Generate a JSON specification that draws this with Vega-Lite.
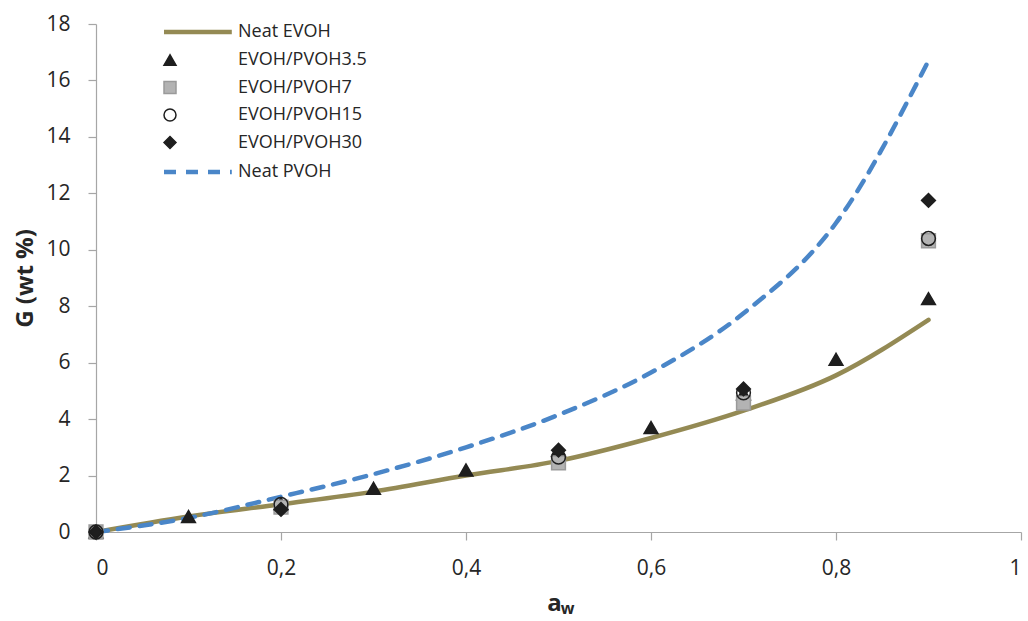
{
  "$schema": "https://vega.github.io/schema/vega-lite/v6.json",
  "width": 925,
  "height": 508,
  "autosize": {"type": "none"},
  "padding": {"left": 96, "top": 24, "right": 7, "bottom": 89},
  "background": "white",
  "config": {
    "view": {"stroke": null},
    "font": "Open Sans",
    "axis": {"grid": false, "domainColor": "#A6A6A6", "tickColor": "#A6A6A6", "domainWidth": 1.2, "tickWidth": 1.2, "labelFont": "Open Sans", "labelFontSize": 21, "labelColor": "#262626", "titleFont": "Open Sans", "titleColor": "#262626"},
    "legend": {"title": null, "orient": "none", "legendX": 65, "padding": 0, "symbolSize": 144, "labelOffset": 59, "rowPadding": 9.5, "labelFont": "Open Sans", "labelFontSize": 18, "labelColor": "#262626", "symbolStrokeWidth": 1.5}
  },
  "datasets": {
    "lines": [
      {"a": 0, "G": 0.0, "series": "Neat EVOH"},
      {"a": 0.1, "G": 0.55, "series": "Neat EVOH"},
      {"a": 0.2, "G": 0.98, "series": "Neat EVOH"},
      {"a": 0.3, "G": 1.43, "series": "Neat EVOH"},
      {"a": 0.4, "G": 2.0, "series": "Neat EVOH"},
      {"a": 0.5, "G": 2.52, "series": "Neat EVOH"},
      {"a": 0.6, "G": 3.33, "series": "Neat EVOH"},
      {"a": 0.7, "G": 4.3, "series": "Neat EVOH"},
      {"a": 0.8, "G": 5.55, "series": "Neat EVOH"},
      {"a": 0.9, "G": 7.52, "series": "Neat EVOH"},
      {"a": 0, "G": 0.0, "series": "Neat PVOH"},
      {"a": 0.1, "G": 0.5, "series": "Neat PVOH"},
      {"a": 0.2, "G": 1.25, "series": "Neat PVOH"},
      {"a": 0.3, "G": 2.05, "series": "Neat PVOH"},
      {"a": 0.4, "G": 3.0, "series": "Neat PVOH"},
      {"a": 0.5, "G": 4.15, "series": "Neat PVOH"},
      {"a": 0.6, "G": 5.65, "series": "Neat PVOH"},
      {"a": 0.7, "G": 7.75, "series": "Neat PVOH"},
      {"a": 0.8, "G": 10.95, "series": "Neat PVOH"},
      {"a": 0.9, "G": 16.7, "series": "Neat PVOH"}
    ],
    "points": [
      {"a": 0, "G": 0.0, "series": "EVOH/PVOH3.5"},
      {"a": 0.1, "G": 0.55, "series": "EVOH/PVOH3.5"},
      {"a": 0.2, "G": 1.0, "series": "EVOH/PVOH3.5"},
      {"a": 0.3, "G": 1.55, "series": "EVOH/PVOH3.5"},
      {"a": 0.4, "G": 2.2, "series": "EVOH/PVOH3.5"},
      {"a": 0.5, "G": 2.9, "series": "EVOH/PVOH3.5"},
      {"a": 0.6, "G": 3.7, "series": "EVOH/PVOH3.5"},
      {"a": 0.7, "G": 4.9, "series": "EVOH/PVOH3.5"},
      {"a": 0.8, "G": 6.12, "series": "EVOH/PVOH3.5"},
      {"a": 0.9, "G": 8.27, "series": "EVOH/PVOH3.5"},
      {"a": 0, "G": 0.0, "series": "EVOH/PVOH7"},
      {"a": 0.2, "G": 0.88, "series": "EVOH/PVOH7"},
      {"a": 0.5, "G": 2.45, "series": "EVOH/PVOH7"},
      {"a": 0.7, "G": 4.57, "series": "EVOH/PVOH7"},
      {"a": 0.9, "G": 10.32, "series": "EVOH/PVOH7"},
      {"a": 0, "G": 0.0, "series": "EVOH/PVOH15"},
      {"a": 0.2, "G": 0.98, "series": "EVOH/PVOH15"},
      {"a": 0.5, "G": 2.65, "series": "EVOH/PVOH15"},
      {"a": 0.7, "G": 4.93, "series": "EVOH/PVOH15"},
      {"a": 0.9, "G": 10.4, "series": "EVOH/PVOH15"},
      {"a": 0, "G": 0.0, "series": "EVOH/PVOH30"},
      {"a": 0.2, "G": 0.8, "series": "EVOH/PVOH30"},
      {"a": 0.5, "G": 2.9, "series": "EVOH/PVOH30"},
      {"a": 0.7, "G": 5.07, "series": "EVOH/PVOH30"},
      {"a": 0.9, "G": 11.75, "series": "EVOH/PVOH30"}
    ]
  },
  "resolve": {"axis": {"x": "independent"}},
  "layer": [
    {
      "data": {"name": "lines"},
      "transform": [{"filter": "datum.series == 'Neat EVOH'"}],
      "mark": {"type": "line", "strokeWidth": 4.5, "strokeCap": "round", "interpolate": "monotone"},
      "encoding": {
        "x": {"field": "a", "type": "quantitative", "scale": {"domain": [0, 1], "nice": false},
          "axis": {"values": [0, 0.2, 0.4, 0.6, 0.8, 1], "labelExpr": "replace(toString(datum.value), '.', ',')", "tickSize": 8, "labelPadding": 17, "title": "a", "titleFontSize": 24, "titleFontWeight": "bold", "titleX": 458, "titleY": 78, "titleBaseline": "alphabetic", "titleAlign": "center"}},
        "y": {"field": "G", "type": "quantitative", "scale": {"domain": [0, 18], "nice": false},
          "axis": {"values": [0, 2, 4, 6, 8, 10, 12, 14, 16, 18], "tickSize": 8, "labelPadding": 18, "title": "G (wt %)", "titleFontSize": 24, "titleFontWeight": "bold", "titleAngle": -90, "titleX": -64, "titleBaseline": "alphabetic"}},
        "color": {"field": "series", "type": "nominal", "scale": {"domain": ["Neat EVOH"], "range": ["#948A54"]},
          "legend": {"legendY": -1, "symbolType": "M-1,0H10.3", "symbolStrokeWidth": 4.5, "symbolStrokeColor": "#948A54"}}
      }
    },
    {
      "data": {"name": "lines"},
      "transform": [{"filter": "datum.series == 'Neat PVOH'"}],
      "mark": {"type": "line", "color": "#4A86C8", "strokeWidth": 4.5, "strokeCap": "round", "interpolate": "monotone"},
      "encoding": {
        "x": {"field": "a", "type": "quantitative",
          "axis": {"orient": "top", "domain": false, "ticks": false, "labels": false, "title": "w", "titleFontSize": 16, "titleFontWeight": "bold", "titleX": 471, "titleY": 589, "titleBaseline": "alphabetic", "titleAlign": "center"}},
        "y": {"field": "G", "type": "quantitative"},
        "strokeDash": {"field": "series", "type": "nominal", "scale": {"domain": ["Neat PVOH"], "range": [[12, 10]]},
          "legend": {"legendY": 139, "symbolType": "M-1,0H10.3", "symbolStrokeWidth": 4.5, "symbolStrokeColor": "#4A86C8"}}
      }
    },
    {
      "data": {"name": "points"},
      "mark": {"type": "point", "size": 190, "strokeWidth": 1.5, "opacity": 1},
      "encoding": {
        "x": {"field": "a", "type": "quantitative", "axis": null},
        "y": {"field": "G", "type": "quantitative"},
        "shape": {"field": "series", "type": "nominal", "sort": null,
          "scale": {"domain": ["EVOH/PVOH3.5", "EVOH/PVOH7", "EVOH/PVOH15", "EVOH/PVOH30"],
            "range": ["triangle-up", "square", "circle", "diamond"]},
          "legend": {"legendY": 27}},
        "fill": {"field": "series", "type": "nominal", "sort": null,
          "scale": {"domain": ["EVOH/PVOH3.5", "EVOH/PVOH7", "EVOH/PVOH15", "EVOH/PVOH30"],
            "range": ["#1E1E1E", "#B3B3B3", "transparent", "#1E1E1E"]},
          "legend": {"legendY": 27}},
        "stroke": {"field": "series", "type": "nominal", "sort": null,
          "scale": {"domain": ["EVOH/PVOH3.5", "EVOH/PVOH7", "EVOH/PVOH15", "EVOH/PVOH30"],
            "range": ["#1E1E1E", "#9A9A9A", "#1E1E1E", "#1E1E1E"]},
          "legend": {"legendY": 27}}
      }
    }
  ]
}
